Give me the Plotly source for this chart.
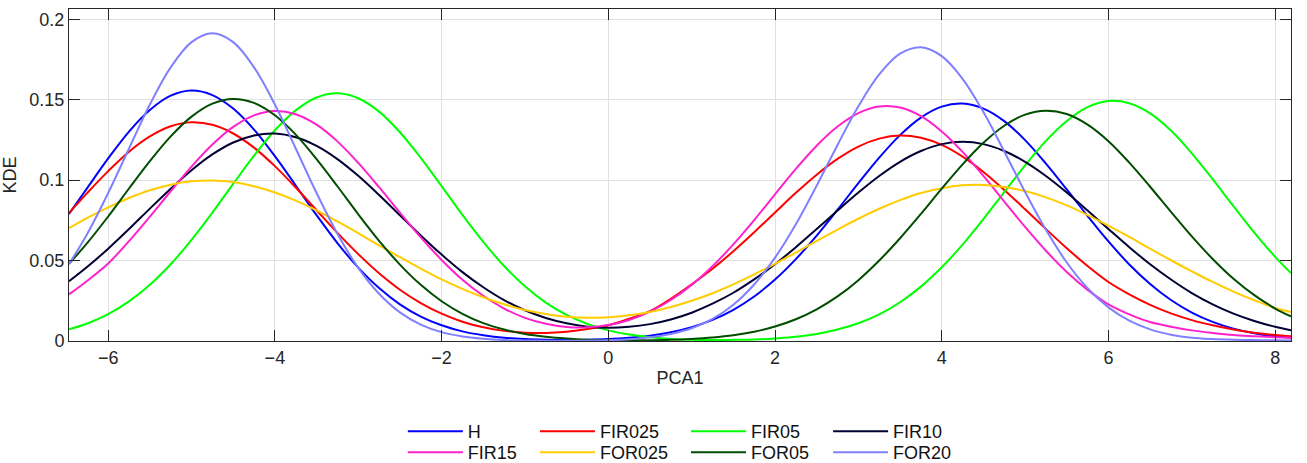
import plotly.graph_objects as go

# PCA1 sample positions (read every 0.25 along the axis)
pca1 = [-6.47, -6.25, -6.0, -5.75, -5.5, -5.25, -5.0, -4.75, -4.5, -4.25, -4.0, -3.75, -3.5, -3.25,
        -3.0, -2.75, -2.5, -2.25, -2.0, -1.75, -1.5, -1.25, -1.0, -0.75, -0.5, -0.25, 0.0, 0.25,
        0.5, 0.75, 1.0, 1.25, 1.5, 1.75, 2.0, 2.25, 2.5, 2.75, 3.0, 3.25, 3.5, 3.75, 4.0, 4.25,
        4.5, 4.75, 5.0, 5.25, 5.5, 5.75, 6.0, 6.25, 6.5, 6.75, 7.0, 7.25, 7.5, 7.75, 8.0, 8.19]

kde_H = [0.0790, 0.0952, 0.1135, 0.1302, 0.1436, 0.1525, 0.1557, 0.1529, 0.1445, 0.1314, 0.1149, 0.0967,
         0.0782, 0.0609, 0.0456, 0.0329, 0.0228, 0.0152, 0.0098, 0.0060, 0.0036, 0.0020, 0.0012, 0.0008,
         0.0006, 0.0008, 0.0012, 0.0020, 0.0033, 0.0054, 0.0086, 0.0131, 0.0194, 0.0277, 0.0382, 0.0509,
         0.0655, 0.0816, 0.0981, 0.1140, 0.1280, 0.1389, 0.1457, 0.1476, 0.1445, 0.1367, 0.1249, 0.1103,
         0.0942, 0.0777, 0.0619, 0.0476, 0.0355, 0.0255, 0.0177, 0.0119, 0.0077, 0.0048, 0.0029, 0.0020]
kde_FIR025 = [0.0796, 0.0921, 0.1056, 0.1177, 0.1272, 0.1335, 0.1360, 0.1344, 0.1290, 0.1202, 0.1087, 0.0954,
              0.0813, 0.0672, 0.0540, 0.0421, 0.0319, 0.0236, 0.0170, 0.0120, 0.0085, 0.0063, 0.0052, 0.0050,
              0.0058, 0.0074, 0.0098, 0.0138, 0.0185, 0.0262, 0.0352, 0.0449, 0.0558, 0.0676, 0.0799, 0.0921,
              0.1034, 0.1132, 0.1209, 0.1258, 0.1277, 0.1263, 0.1219, 0.1146, 0.1051, 0.0939, 0.0819, 0.0696,
              0.0577, 0.0466, 0.0367, 0.0290, 0.0225, 0.0172, 0.0130, 0.0098, 0.0072, 0.0052, 0.0037, 0.0029]
kde_FIR05 = [0.0073, 0.0109, 0.0167, 0.0246, 0.0349, 0.0477, 0.0629, 0.0798, 0.0977, 0.1152, 0.1310, 0.1434,
             0.1514, 0.1540, 0.1509, 0.1426, 0.1298, 0.1139, 0.0963, 0.0784, 0.0616, 0.0466, 0.0340, 0.0239,
             0.0162, 0.0106, 0.0066, 0.0040, 0.0024, 0.0013, 0.0008, 0.0006, 0.0007, 0.0009, 0.0016, 0.0026,
             0.0044, 0.0071, 0.0110, 0.0165, 0.0241, 0.0338, 0.0458, 0.0599, 0.0758, 0.0926, 0.1092, 0.1244,
             0.1368, 0.1454, 0.1492, 0.1478, 0.1415, 0.1308, 0.1167, 0.1006, 0.0838, 0.0674, 0.0523, 0.0422]
kde_FIR10 = [0.0371, 0.0461, 0.0574, 0.0696, 0.0823, 0.0947, 0.1062, 0.1160, 0.1234, 0.1278, 0.1290, 0.1267,
             0.1213, 0.1131, 0.1027, 0.0908, 0.0782, 0.0656, 0.0537, 0.0428, 0.0334, 0.0254, 0.0191, 0.0143,
             0.0110, 0.0089, 0.0082, 0.0088, 0.0105, 0.0134, 0.0176, 0.0232, 0.0300, 0.0383, 0.0477, 0.0583,
             0.0696, 0.0811, 0.0923, 0.1026, 0.1114, 0.1181, 0.1224, 0.1238, 0.1224, 0.1181, 0.1114, 0.1026,
             0.0923, 0.0811, 0.0696, 0.0583, 0.0477, 0.0382, 0.0298, 0.0228, 0.0170, 0.0124, 0.0088, 0.0067]
kde_FIR15 = [0.0290, 0.0375, 0.0482, 0.0621, 0.0773, 0.0931, 0.1084, 0.1221, 0.1331, 0.1403, 0.1430, 0.1410,
             0.1345, 0.1241, 0.1107, 0.0956, 0.0798, 0.0644, 0.0504, 0.0381, 0.0281, 0.0202, 0.0144, 0.0107,
             0.0087, 0.0085, 0.0099, 0.0131, 0.0183, 0.0255, 0.0349, 0.0465, 0.0601, 0.0752, 0.0912, 0.1070,
             0.1214, 0.1333, 0.1417, 0.1458, 0.1451, 0.1398, 0.1303, 0.1176, 0.1026, 0.0867, 0.0709, 0.0561,
             0.0429, 0.0318, 0.0228, 0.0166, 0.0118, 0.0089, 0.0066, 0.0050, 0.0037, 0.0030, 0.0024, 0.0020]
kde_FOR025 = [0.0701, 0.0765, 0.0831, 0.0889, 0.0937, 0.0972, 0.0993, 0.0998, 0.0988, 0.0962, 0.0923, 0.0873,
              0.0812, 0.0743, 0.0670, 0.0594, 0.0521, 0.0450, 0.0383, 0.0324, 0.0272, 0.0228, 0.0193, 0.0168,
              0.0151, 0.0145, 0.0148, 0.0160, 0.0180, 0.0211, 0.0250, 0.0297, 0.0352, 0.0414, 0.0480, 0.0550,
              0.0622, 0.0693, 0.0760, 0.0822, 0.0876, 0.0920, 0.0950, 0.0968, 0.0970, 0.0958, 0.0932, 0.0893,
              0.0843, 0.0783, 0.0717, 0.0647, 0.0574, 0.0502, 0.0433, 0.0367, 0.0307, 0.0253, 0.0205, 0.0180]
kde_FOR05 = [0.0480, 0.0610, 0.0774, 0.0948, 0.1118, 0.1272, 0.1395, 0.1476, 0.1505, 0.1480, 0.1403, 0.1283,
             0.1131, 0.0962, 0.0788, 0.0623, 0.0475, 0.0349, 0.0247, 0.0169, 0.0111, 0.0071, 0.0043, 0.0026,
             0.0015, 0.0008, 0.0005, 0.0004, 0.0005, 0.0007, 0.0013, 0.0022, 0.0036, 0.0058, 0.0090, 0.0135,
             0.0197, 0.0277, 0.0378, 0.0500, 0.0639, 0.0790, 0.0947, 0.1098, 0.1232, 0.1338, 0.1407, 0.1432,
             0.1411, 0.1345, 0.1242, 0.1109, 0.0959, 0.0803, 0.0650, 0.0510, 0.0387, 0.0285, 0.0202, 0.0153]
kde_FOR20 = [0.0478, 0.0667, 0.0920, 0.1197, 0.1470, 0.1701, 0.1858, 0.1913, 0.1858, 0.1701, 0.1470, 0.1197,
             0.0920, 0.0667, 0.0455, 0.0294, 0.0178, 0.0102, 0.0055, 0.0028, 0.0014, 0.0006, 0.0003, 0.0002,
             0.0001, 0.0002, 0.0005, 0.0011, 0.0023, 0.0044, 0.0079, 0.0137, 0.0225, 0.0351, 0.0518, 0.0726,
             0.0966, 0.1219, 0.1459, 0.1657, 0.1786, 0.1826, 0.1771, 0.1630, 0.1423, 0.1178, 0.0926, 0.0691,
             0.0488, 0.0328, 0.0209, 0.0126, 0.0072, 0.0039, 0.0020, 0.0012, 0.0008, 0.0006, 0.0004, 0.0003]

series_names = ["H", "FIR025", "FIR05", "FIR10", "FIR15", "FOR025", "FOR05", "FOR20"]
series_values = [kde_H, kde_FIR025, kde_FIR05, kde_FIR10, kde_FIR15, kde_FOR025, kde_FOR05, kde_FOR20]
series_colors = ["#0000FF", "#FF0000", "#00FF00", "#000033", "#FF22CC", "#FFCC00", "#004D00", "#8080FF"]

for v in series_values:
    assert len(v) == len(pca1), len(v)

x_ticks = [-6, -4, -2, 0, 2, 4, 6, 8]
y_ticks = [0, 0.05, 0.1, 0.15, 0.2]
y_ticklabels = ["0", "0.05", "0.1", "0.15", "0.2"]

# MATLAB-style 4-column legend, filled row by row: one single-entry legend per slot
legend_cols_x = [0.2732, 0.3813, 0.5049, 0.6212]   # paper x of the 4 columns
legend_rows_y = [0.108, 0.0626]                    # container y (top) of the 2 rows

fig = go.Figure()
for i, (name, vals, col) in enumerate(zip(series_names, series_values, series_colors)):
    lg = "legend" if i == 0 else "legend%d" % (i + 1)
    fig.add_trace(go.Scatter(x=pca1, y=vals, mode="lines", name=name, showlegend=True,
                             line=dict(color=col, width=2, shape="spline", smoothing=1.0, simplify=False),
                             legend=lg))

axis_col = "#262626"
font_main = "Liberation Sans, Arial, sans-serif"
common_axis = dict(showline=True, linecolor=axis_col, linewidth=1, mirror="allticks",
                   ticks="inside", ticklen=11, tickwidth=1, tickcolor=axis_col,
                   showgrid=True, gridcolor="#E0E0E0", gridwidth=1, zeroline=False,
                   tickfont=dict(family=font_main, size=18, color=axis_col))

fig.update_xaxes(range=[-6.47, 8.19], tickvals=x_ticks,
                 title=dict(text="PCA1", font=dict(family=font_main, size=18, color=axis_col), standoff=4),
                 **common_axis)
fig.update_yaxes(range=[0, 0.2064], tickvals=y_ticks, ticktext=y_ticklabels,
                 title=dict(text="KDE", font=dict(family=font_main, size=18, color=axis_col), standoff=8),
                 **common_axis)

leg_common = dict(orientation="v", xanchor="left", yanchor="top", yref="container",
                  font=dict(family=font_main, size=18, color="#111111"),
                  itemwidth=55, bgcolor="rgba(0,0,0,0)", tracegroupgap=0, visible=True)
legend_layout = {}
for i in range(len(series_names)):
    key = "legend" if i == 0 else "legend%d" % (i + 1)
    legend_layout[key] = dict(x=legend_cols_x[i % 4], y=legend_rows_y[i // 4], **leg_common)

fig.update_layout(
    width=1307, height=463,
    showlegend=True,
    margin=dict(l=69, r=16, t=9, b=122, autoexpand=False),
    paper_bgcolor="white", plot_bgcolor="white",
    **legend_layout,
)

fig.write_html("out.html")
